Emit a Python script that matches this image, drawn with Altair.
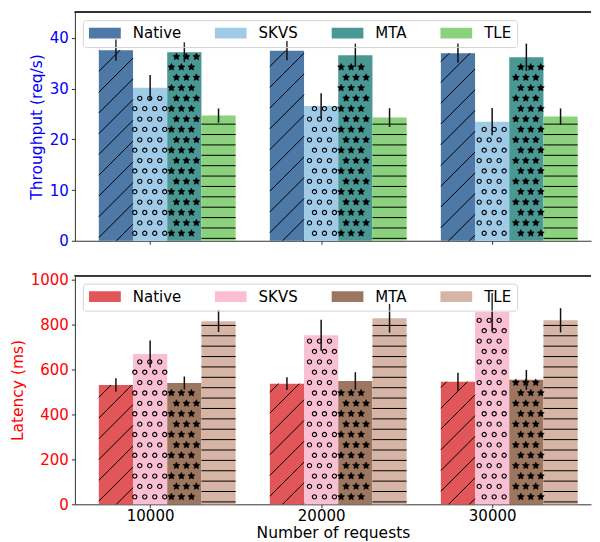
import math
import altair as alt
import pandas as pd

# ---------------- data ----------------
groups = ["10000", "20000", "30000"]
systems = ["Native", "SKVS", "MTA", "TLE"]

thr_native = [37.6, 37.5, 37.0]
thr_skvs = [30.2, 26.6, 23.5]
thr_mta = [37.2, 36.6, 36.2]
thr_tle = [24.7, 24.3, 24.5]
thr_native_err = [2.1, 1.9, 1.9]
thr_skvs_err = [2.5, 2.5, 2.7]
thr_mta_err = [1.95, 2.3, 2.7]
thr_tle_err = [1.4, 1.85, 1.6]

lat_native = [531, 537, 546]
lat_skvs = [669, 752, 856]
lat_mta = [540, 549, 554]
lat_tle = [815, 828, 819]
lat_native_err = [30, 28, 40]
lat_skvs_err = [60, 69, 85]
lat_mta_err = [29, 39, 44]
lat_tle_err = [48, 64, 54]

thr_ticks = [0, 10, 20, 30, 40]
lat_ticks = [0, 200, 400, 600, 800, 1000]

thr_colors = ["#4e79a7", "#a0cbe8", "#499894", "#8cd17d"]
lat_colors = ["#e15759", "#fabfd2", "#9d7660", "#d7b5a6"]
hatches = ["/", "o", "*", "-"]

# ---------------- layout / style ----------------
W, H = 517, 229
XDOM = [-0.44, 2.578]
THR_DOM = [0, 45.1]
LAT_DOM = [0, 1017.6]
BAR_W = 0.2
SY = 10.4         # vertical hatch pitch (px)
SX = 10.0         # horizontal pitch of hatch shapes (px)
PH_H = 2.4        # phase of horizontal hatch lines
PH_S = 7.5        # phase of shape rows
PH_D = 0.0
PH_X = {"o": 0.0, "*": 6.7}
CIRCLE_R = 2.1
STAR_R = 3.7
EDGE = 0.6        # fraction of a hatch shape kept away from the bar edge
FONT = "DejaVu Sans"
SPINE = "#333333"

# five-pointed star path in [-1, 1]
_pts = []
for i in range(10):
    r = 1.0 if i % 2 == 0 else 0.5
    th = math.pi / 2 + i * math.pi / 5
    _pts.append((r * math.cos(th), -r * math.sin(th)))
STAR_PATH = "M" + "L".join(f"{x:.3f},{y:.3f}" for x, y in _pts) + "Z"
RECT_PATH = "M-1,-0.34H1V0.34H-1Z"


def build(means, errs):
    rows = []
    for si, s in enumerate(systems):
        for gi, g in enumerate(groups):
            rows.append(dict(system=s, group=g, gi=gi, si=si,
                             value=means[si][gi], err=errs[si][gi]))
    return pd.DataFrame(rows)


def hatch_tables(df, ydom):
    kx = W / (XDOM[1] - XDOM[0])
    ky = H / (ydom[1] - ydom[0])
    segs, circ, star = [], [], []
    for _, r in df.iterrows():
        xc = r.gi + (r.si - 1) * BAR_W
        X0 = (xc - BAR_W / 2 - XDOM[0]) * kx
        X1 = (xc + BAR_W / 2 - XDOM[0]) * kx
        Hb = r.value * ky
        kind = hatches[int(r.si)]
        if kind == "/":
            step = 2 * SY
            k0 = math.floor((X0 - Hb) / step) - 1
            k1 = math.ceil(X1 / step) + 1
            for k in range(k0, k1 + 1):
                c = k * step + PH_D
                lo = max(0.0, X0 - c)
                hi = min(Hb, X1 - c)
                if hi - lo > 0.3:
                    segs.append((lo + c, lo, hi + c, hi))
        elif kind == "-":
            y = PH_H
            while y < Hb - 0.5:
                segs.append((X0, y, X1, y))
                y += SY
        else:
            rad = CIRCLE_R if kind == "o" else STAR_R
            m = rad * EDGE
            target = circ if kind == "o" else star
            row = 0
            y = PH_S
            while y <= Hb - m:
                off = PH_X[kind] + (row % 2) * SX / 2
                kmin = math.ceil((X0 + m - off) / SX)
                kmax = math.floor((X1 - m - off) / SX)
                for k in range(kmin, kmax + 1):
                    target.append((k * SX + off, y))
                row += 1
                y += SY
    to_x = lambda v: XDOM[0] + v / kx
    to_y = lambda v: v / ky
    seg_df = pd.DataFrame([dict(x=to_x(a), y=to_y(b), x2=to_x(c), y2=to_y(d))
                           for a, b, c, d in segs])
    circ_df = pd.DataFrame([dict(x=to_x(a), y=to_y(b)) for a, b in circ])
    star_df = pd.DataFrame([dict(x=to_x(a), y=to_y(b)) for a, b in star])
    return seg_df, circ_df, star_df


label_expr = "[" + ",".join(f"'{g}'" for g in groups) + "][datum.value]"


def panel(means, errs, colors, ydom, yticks, ytitle, tcolor, bottom):
    df = build(means, errs)
    seg_df, circ_df, star_df = hatch_tables(df, ydom)
    xs = alt.Scale(domain=XDOM, nice=False, zero=False)
    ys = alt.Scale(domain=ydom, nice=False, zero=False)

    xtitle = "Number of requests" if bottom else None
    xaxis = alt.Axis(values=[0, 1, 2], labels=bottom, labelExpr=label_expr,
                     grid=False, domain=True, labelPadding=0.5, titlePadding=2)
    yaxis = alt.Axis(values=yticks, titleColor=tcolor, format="d",
                     labelColor=tcolor, grid=False, domain=True,
                     labelPadding=3, titlePadding=5)
    legend = alt.Legend(title=None, orient="top-left", direction="horizontal",
                        columns=4, symbolType=RECT_PATH, symbolSize=1024,
                        symbolStrokeWidth=0, symbolOpacity=1,
                        labelFontSize=15, labelFont=FONT, labelColor="black",
                        labelOffset=12, columnPadding=33, padding=6,
                        clipHeight=14, offset=8,
                        fillColor="rgba(255,255,255,0.15)",
                        strokeColor="#d4d4d4", cornerRadius=3)

    def X(field):
        return alt.X(field, scale=xs, axis=xaxis, title=xtitle)

    def Y(field):
        return alt.Y(field, scale=ys, axis=yaxis, title=ytitle)

    base = alt.Chart(df).transform_calculate(
        xc=f"datum.gi + (datum.si - 1) * {BAR_W}"
    ).transform_calculate(
        x0=f"datum.xc - {BAR_W / 2}",
        x1=f"datum.xc + {BAR_W / 2}",
        lo="datum.value - datum.err",
        hi="datum.value + datum.err",
    )
    bars = base.mark_bar(strokeWidth=0).encode(
        x=X("x0:Q"),
        x2="x1:Q",
        y=Y("value:Q"),
        y2=alt.datum(0),
        color=alt.Color("system:N", scale=alt.Scale(domain=systems, range=colors),
                        legend=legend),
    )
    lines = alt.Chart(seg_df).mark_rule(color="black", strokeWidth=1).encode(
        x=X("x:Q"), x2="x2:Q", y=Y("y:Q"), y2="y2:Q",
    )
    circles = alt.Chart(circ_df).mark_point(
        shape="circle", filled=False, color="black", size=18,
        strokeWidth=1.1, opacity=1
    ).encode(x=X("x:Q"), y=Y("y:Q"))
    stars = alt.Chart(star_df).mark_point(
        shape=STAR_PATH, filled=True, color="black", size=(2 * STAR_R) ** 2,
        strokeWidth=0.5, stroke="black", opacity=1
    ).encode(x=X("x:Q"), y=Y("y:Q"))
    ebars = base.mark_rule(color="#111111", strokeWidth=1.5).encode(
        x=X("xc:Q"), y=Y("lo:Q"), y2="hi:Q",
    )
    # top spine (the right spine lies outside the visible figure)
    spine = alt.Chart(df).mark_rule(color=SPINE, strokeWidth=1).encode(
        x=alt.XDatum(XDOM[0], type="quantitative", scale=xs, axis=xaxis, title=xtitle),
        x2=alt.X2Datum(XDOM[1]),
        y=alt.YDatum(ydom[1], type="quantitative", scale=ys, axis=yaxis, title=ytitle),
    )
    return alt.layer(bars, lines, circles, stars, ebars, spine).properties(
        width=W, height=H)


top = panel([thr_native, thr_skvs, thr_mta, thr_tle],
            [thr_native_err, thr_skvs_err, thr_mta_err, thr_tle_err],
            thr_colors, THR_DOM, thr_ticks, "Throughput (req/s)", "blue", False)
bottom = panel([lat_native, lat_skvs, lat_mta, lat_tle],
               [lat_native_err, lat_skvs_err, lat_mta_err, lat_tle_err],
               lat_colors, LAT_DOM, lat_ticks, "Latency (ms)", "red", True)

chart = alt.vconcat(top, bottom, spacing=23).resolve_scale(
    color="independent", x="independent", y="independent"
).resolve_legend(color="independent").configure(
    font=FONT, padding={"left": 2, "top": 2.7, "right": 0, "bottom": 0}
).configure_view(
    stroke=None
).configure_axis(
    labelFontSize=15, titleFontSize=15.5, labelFont=FONT, titleFont=FONT,
    tickSize=3.5, tickWidth=0.8, tickColor="black", labelColor="black",
    titleColor="black", titleFontWeight="normal", grid=False,
    domainColor=SPINE, domainWidth=1
)

chart.save("out.html", embed_options={"renderer": "svg", "actions": False})
